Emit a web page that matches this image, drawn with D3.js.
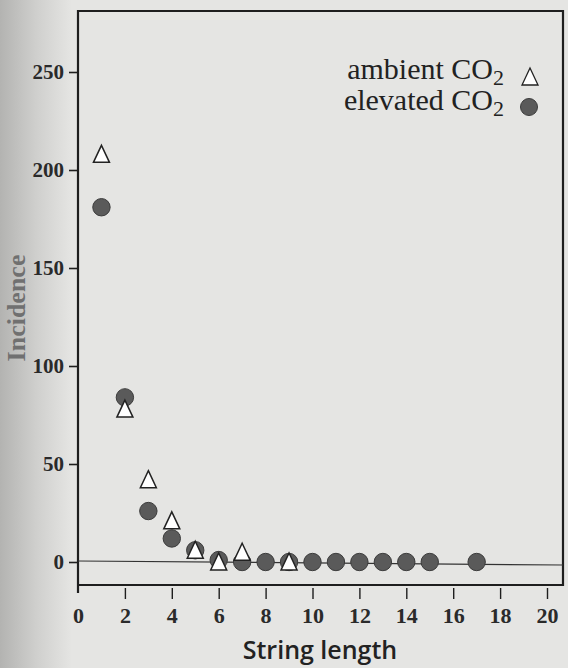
<!DOCTYPE html>
<html><head><meta charset="utf-8">
<script src="https://cdn.jsdelivr.net/npm/d3@7"></script>
<style>body{margin:0;background:#e5e5e3;}svg{display:block;}</style>
</head><body>
<script>
// Data
const ambientX = [1, 2, 3, 4, 5, 6, 7, 9];
const ambientY = [208, 78, 42, 21, 6, 0, 5, 0];
const elevatedX = [1, 2, 3, 4, 5, 6, 7, 8, 9, 10, 11, 12, 13, 14, 15, 17];
const elevatedY = [181, 84, 26, 12, 6, 1, 0, 0, 0, 0, 0, 0, 0, 0, 0, 0];
const xTicks = [0, 2, 4, 6, 8, 10, 12, 14, 16, 18, 20];
const yTicks = [0, 50, 100, 150, 200, 250];

const W = 568, H = 668;
const svg = d3.select("body").append("svg").attr("width", W).attr("height", H);

const defs = svg.append("defs");
const g1 = defs.append("linearGradient").attr("id", "edge").attr("x1", 0).attr("x2", 1);
g1.append("stop").attr("offset", "0").attr("stop-color", "#b3b3b1");
g1.append("stop").attr("offset", "0.5").attr("stop-color", "#cfcfcd");
g1.append("stop").attr("offset", "1").attr("stop-color", "#e5e5e3");
svg.append("rect").attr("width", W).attr("height", H).attr("fill", "#e5e5e3");
svg.append("rect").attr("width", 72).attr("height", H).attr("fill", "url(#edge)");

const pL = 78, pR = 563, pT = 11, pB = 585;
const x = d3.scaleLinear().domain([0, 20]).range([78, 547]);
const y = d3.scaleLinear().domain([0, 250]).range([562, 72]);

const ink = "#1e1e1e";

// frame
svg.append("path")
  .attr("d", `M${pL},${pB + 8} L${pL},${pT} L${pR},${pT} L${pR},${pB} L${pL},${pB}`)
  .attr("fill", "none").attr("stroke", ink).attr("stroke-width", 2.2);

// zero baseline
svg.append("line").attr("x1", pL).attr("x2", pR)
  .attr("y1", y(0) - 1).attr("y2", y(0) + 3)
  .attr("stroke", "#333").attr("stroke-width", 1.2);

// y axis
const yAxis = svg.append("g").attr("transform", `translate(${pL},0)`)
  .call(d3.axisLeft(y).tickValues(yTicks).tickSize(9).tickSizeOuter(0).tickPadding(5));
yAxis.select(".domain").remove();
yAxis.selectAll("line").attr("stroke", ink).attr("stroke-width", 1.6);
yAxis.selectAll("text").attr("fill", "#2a2a2a")
  .style("font-family", "'Liberation Serif', serif").style("font-size", "21px").style("font-weight", "bold");

// x axis
const xAxis = svg.append("g").attr("transform", `translate(0,${pB + 3})`)
  .call(d3.axisBottom(x).tickValues(xTicks).tickSize(11).tickSizeOuter(0).tickPadding(8));
xAxis.select(".domain").remove();
xAxis.selectAll(".tick").filter(d => d === 0).select("line").remove();
xAxis.selectAll("line").attr("stroke", ink).attr("stroke-width", 1.4);
xAxis.selectAll("text").attr("fill", "#2a2a2a")
  .style("font-family", "'Liberation Serif', serif").style("font-size", "22px").style("font-weight", "bold");

// axis titles
svg.append("text").attr("x", 320).attr("y", 659).attr("text-anchor", "middle")
  .attr("fill", "#222")
  .style("font-family", "'Open Sans', sans-serif").style("font-size", "25px").style("font-weight", "600")
  .text("String length");
svg.append("text").attr("transform", "translate(25,308) rotate(-90)").attr("text-anchor", "middle")
  .attr("fill", "#707070")
  .style("font-family", "'Liberation Serif', serif").style("font-size", "26px").style("font-weight", "bold")
  .text("Incidence");

// markers
const triType = { draw(ctx) { ctx.moveTo(0, -9); ctx.lineTo(8, 8); ctx.lineTo(-8, 8); ctx.closePath(); } };
const tri = d3.symbol().type(triType);
svg.append("g").selectAll("circle").data(elevatedX).join("circle")
  .attr("cx", d => x(d)).attr("cy", (d, i) => y(elevatedY[i])).attr("r", 8.7)
  .attr("fill", "#5a5a5a").attr("stroke", "#3c3c3c").attr("stroke-width", 1);
svg.append("g").selectAll("path").data(ambientX).join("path")
  .attr("d", tri)
  .attr("transform", (d, i) => `translate(${x(d)},${y(ambientY[i])})`)
  .attr("fill", "#ffffff").attr("stroke", "#222").attr("stroke-width", 1.5);

// legend
const lg = svg.append("g");
const lfont = "'Liberation Serif', serif";
function legendText(yb, label) {
  const t = lg.append("text").attr("x", 504).attr("y", yb).attr("text-anchor", "end")
    .attr("fill", "#222").style("font-family", lfont).style("font-size", "30px");
  t.append("tspan").text(label + " CO");
  t.append("tspan").attr("dy", 6).style("font-size", "22px").text("2");
}
legendText(79, "ambient");
legendText(110, "elevated");
lg.append("path").attr("d", tri).attr("transform", "translate(530,77)")
  .attr("fill", "#ffffff").attr("stroke", "#222").attr("stroke-width", 1.3);
lg.append("circle").attr("cx", 529).attr("cy", 107).attr("r", 8.5)
  .attr("fill", "#5a5a5a").attr("stroke", "#3c3c3c");
</script>
</body></html>
